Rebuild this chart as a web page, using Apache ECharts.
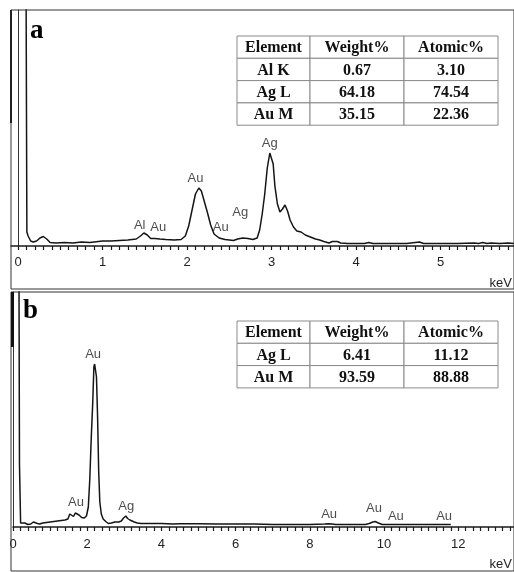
<!DOCTYPE html>
<html>
<head>
<meta charset="utf-8">
<script src="https://cdn.jsdelivr.net/npm/echarts@6/dist/echarts.min.js"></script>
<style>
html,body{margin:0;padding:0;background:#fff;}
#chart{width:514px;height:572px;}
</style>
</head>
<body>
<div id="chart"></div>
<script>
// ---------- Panel a spectrum (keV, counts) ----------
const aEnergy = [0.09,0.10,0.105,0.12,0.15,0.18,0.22,0.26,0.30,0.34,0.38,0.45,0.55,0.65,0.75,0.85,0.95,1.00,1.10,1.20,1.30,1.40,1.45,1.49,1.53,1.57,1.62,1.68,1.75,1.85,1.93,1.98,2.02,2.06,2.10,2.14,2.17,2.20,2.24,2.28,2.32,2.38,2.45,2.55,2.60,2.66,2.72,2.78,2.83,2.86,2.89,2.92,2.95,2.98,3.00,3.02,3.04,3.07,3.10,3.13,3.16,3.19,3.22,3.26,3.30,3.35,3.40,3.46,3.52,3.57,3.62,3.68,3.72,3.78,3.82,3.90,4.00,4.10,4.15,4.20,4.40,4.60,4.75,4.80,5.00,5.20,5.40,5.45,5.50,5.55,5.60,5.70,5.80,5.87];
const aCounts = [400,400,14,10,5,4,5,8,9.5,7,3.5,3,3.5,3,4,3.5,4.5,5,5,5.5,6,7,10,13,11,7.5,7.5,7,6.5,6,6.5,10,20,36,52,58,55,46,34,21,12,8,6.5,5.5,7,8,7.5,6.5,8,16,32,52,78,93,91,82,60,42,34,37,41,35,26,19,15,14,11,9,7,6,4.5,3,4.5,4.5,3,2.5,2.5,2.5,3.5,2.5,2.5,2.5,4,2.5,2.5,2.5,3,2.5,3.5,2.5,3,2.5,3,2.5];
const aPeakNames  = ['Al','Au','Au','Au','Ag','Ag'];
const aPeakEnergy = [1.44,1.66,2.10,2.40,2.63,2.98];
const aPeakHeight = [21,19,68,19,34,103];
const aTickLabels = [0,1,2,3,4,5];

// ---------- Panel b spectrum (keV, counts) ----------
const bEnergy = [0.15,0.17,0.175,0.20,0.205,0.25,0.32,0.40,0.48,0.55,0.60,0.66,0.72,0.80,0.90,1.00,1.10,1.20,1.30,1.40,1.48,1.53,1.58,1.63,1.68,1.73,1.78,1.85,1.92,1.98,2.03,2.07,2.11,2.15,2.18,2.20,2.22,2.25,2.28,2.31,2.34,2.38,2.43,2.50,2.57,2.65,2.75,2.85,2.92,2.98,3.04,3.09,3.15,3.20,3.27,3.35,3.45,4.00,4.30,4.50,5.00,5.50,6.00,6.50,7.00,7.50,8.00,8.40,8.50,8.60,8.70,9.00,9.50,9.60,9.70,9.76,9.85,9.95,10.20,10.60,11.00,11.40,11.80];
const bCounts = [400,400,62,60,4,3.5,4,2.5,3,5,5.5,3.5,3,4,4.5,5,5.5,6,6.5,7,8,13,12,10.5,14,14.5,12,9.5,9,11,20,48,90,125,160,163,158,150,110,55,25,13,8,5.5,3.5,4,5,5,6,9,11,8.5,7,6.5,5,4,3.5,3.5,3,3.3,3.3,3,3,3,2.5,2.5,2.5,3,3.2,3,2.5,2.5,2.5,3.5,5,5.5,4,2.5,2.5,2.5,2.5,2.5,2.5];
const bPeakNames  = ['Au','Au','Ag','Au','Au','Au','Au'];
const bPeakEnergy = [2.16,1.70,3.05,8.52,9.73,10.32,11.62];
const bPeakHeight = [173,25,21,13,19,11,11];
const bTickLabels = [0,2,4,6,8,10,12];

// ---------- Tables ----------
const tableHeader = ['Element','Weight%','Atomic%'];
const tableARows = [['Al K','0.67','3.10'],['Ag L','64.18','74.54'],['Au M','35.15','22.36']];
const tableBRows = [['Ag L','6.41','11.12'],['Au M','93.59','88.88']];

function zip(xs, ys){ return xs.map((x,i)=>[x, ys[i]]); }
function peaks(n,e,h){ return n.map((name,i)=>({value:[e[i],h[i]], name:name})); }
function range(step, count){ const r=[]; for(let i=0;i<=count;i++) r.push(+(i*step).toFixed(2)); return r; }

const chart = echarts.init(document.getElementById('chart'), null, {renderer:'canvas'});

const axisColor = '#1a1a1a';
const labelFont = {fontFamily:'Liberation Sans', fontSize:13, color:'#222'};

function makeTable(x0, y0, rows){
  const colW = [73, 94, 94];
  const rowH = 22.3;
  const all = [tableHeader].concat(rows);
  const els = [];
  all.forEach((row, r) => {
    let cx = x0;
    row.forEach((cell, c) => {
      els.push({type:'rect', shape:{x:cx, y:y0 + r*rowH, width:colW[c], height:rowH},
        style:{fill:'#fff', stroke:'#8a8a8a', lineWidth:1}, z:10});
      els.push({type:'text', x:cx + colW[c]/2, y:y0 + r*rowH + rowH/2 + 1,
        style:{text:cell, font:'bold 16px "Liberation Serif"', fill:'#111', align:'center', verticalAlign:'middle'}, z:11});
      cx += colW[c];
    });
  });
  return els;
}

const graphics = [
  // panel frames
  {type:'rect', shape:{x:11, y:10, width:503, height:279}, style:{fill:'none', stroke:'#333', lineWidth:1}, z:5},
  {type:'rect', shape:{x:11, y:292, width:503, height:279}, style:{fill:'none', stroke:'#333', lineWidth:1}, z:5},
  {type:'rect', shape:{x:10, y:10, width:2, height:113}, style:{fill:'#222'}, z:5},
  {type:'rect', shape:{x:11, y:292, width:3, height:55}, style:{fill:'#111'}, z:5},
  // panel letters
  {type:'text', x:30, y:18, style:{text:'a', font:'bold 27px "Liberation Serif"', fill:'#000'}, z:12},
  {type:'text', x:23, y:298, style:{text:'b', font:'bold 27px "Liberation Serif"', fill:'#000'}, z:12},
  // axis unit labels
  {type:'text', x:512, y:283, style:{text:'keV', font:'13px "Liberation Sans"', fill:'#222', align:'right', verticalAlign:'middle'}, z:12},
  {type:'text', x:512, y:564, style:{text:'keV', font:'13px "Liberation Sans"', fill:'#222', align:'right', verticalAlign:'middle'}, z:12}
].concat(makeTable(237, 36, tableARows)).concat(makeTable(237, 321, tableBRows));

const option = {
  backgroundColor:'#fff',
  animation:false,
  grid:[
    {left:11, right:0, top:10, height:236},
    {left:13, right:0, top:292, height:235}
  ],
  xAxis:[
    {type:'value', gridIndex:0, min:-7/84.5, max:496/84.5,
     axisLine:{show:true, onZero:false, lineStyle:{color:axisColor, width:1.5}},
     axisTick:{show:true, inside:false, length:4, customValues:range(0.1,58), lineStyle:{color:axisColor, width:1.2}},
     axisLabel:Object.assign({margin:10, customValues:aTickLabels}, labelFont),
     splitLine:{show:false}},
    {type:'value', gridIndex:1, min:0, max:501/37.1,
     axisLine:{show:true, onZero:false, lineStyle:{color:axisColor, width:1.5}},
     axisTick:{show:true, inside:false, length:4, customValues:range(0.2,67), lineStyle:{color:axisColor, width:1.2}},
     axisLabel:Object.assign({margin:11, customValues:bTickLabels}, labelFont),
     splitLine:{show:false}}
  ],
  yAxis:[
    {type:'value', gridIndex:0, min:0, max:236,
     axisLine:{show:true, onZero:true, lineStyle:{color:'#333', width:1}},
     axisTick:{show:false}, axisLabel:{show:false}, splitLine:{show:false}},
    {type:'value', gridIndex:1, min:0, max:235,
     axisLine:{show:true, onZero:true, lineStyle:{color:'#333', width:1}},
     axisTick:{show:false}, axisLabel:{show:false}, splitLine:{show:false}}
  ],
  graphic:graphics,
  series:[
    {type:'line', xAxisIndex:0, yAxisIndex:0, data:zip(aEnergy,aCounts), symbol:'none', clip:true,
     lineStyle:{color:'#151515', width:1.5}},
    {type:'line', xAxisIndex:1, yAxisIndex:1, data:zip(bEnergy,bCounts), symbol:'none', clip:true,
     lineStyle:{color:'#151515', width:1.5}},
    {type:'scatter', xAxisIndex:0, yAxisIndex:0, data:peaks(aPeakNames,aPeakEnergy,aPeakHeight),
     symbolSize:1, itemStyle:{color:'rgba(0,0,0,0)'},
     label:Object.assign({show:true, position:'inside', formatter:'{b}'}, labelFont)},
    {type:'scatter', xAxisIndex:1, yAxisIndex:1, data:peaks(bPeakNames,bPeakEnergy,bPeakHeight),
     symbolSize:1, itemStyle:{color:'rgba(0,0,0,0)'},
     label:Object.assign({show:true, position:'inside', formatter:'{b}'}, labelFont)}
  ]
};
chart.setOption(option);
</script>
</body>
</html>
